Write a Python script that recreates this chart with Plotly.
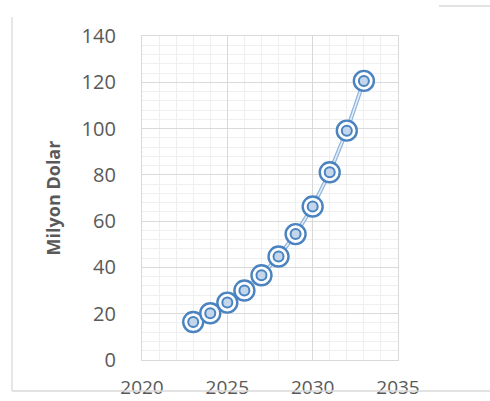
import plotly.graph_objects as go

# Annual market size (million USD)
years = [2023, 2024, 2025, 2026, 2027, 2028, 2029, 2030, 2031, 2032, 2033]
values = [16.4, 20.2, 24.8, 30.0, 36.6, 44.7, 54.4, 66.3, 81.1, 99.1, 120.6]

y_title = "Milyon Dolar"
x_ticks = [2020, 2025, 2030, 2035]
y_ticks = [0, 20, 40, 60, 80, 100, 120, 140]

blue = "#4a83c0"
text_color = "#595959"
font_family = "Open Sans"

fig = go.Figure()

# compound (double) connector line: wide light stroke with a pale core
fig.add_trace(go.Scatter(x=years, y=values, mode="lines",
                         line=dict(color="#8db3dd", width=4),
                         hoverinfo="skip", showlegend=False))
fig.add_trace(go.Scatter(x=years, y=values, mode="lines",
                         line=dict(color="#e3edf8", width=1.6),
                         hoverinfo="skip", showlegend=False))
# double-ring markers
fig.add_trace(go.Scatter(x=years, y=values, mode="markers",
                         marker=dict(symbol="circle", size=20, color="rgba(255,255,255,0.9)",
                                     line=dict(color=blue, width=2.4)),
                         showlegend=False))
fig.add_trace(go.Scatter(x=years, y=values, mode="markers",
                         marker=dict(symbol="circle", size=10, color="#c4d6ec",
                                     line=dict(color=blue, width=2)),
                         showlegend=False))

fig.update_xaxes(range=[2020, 2035], tickvals=x_ticks, showgrid=True,
                 gridcolor="#d9d9d9", gridwidth=1.3,
                 minor=dict(dtick=1, showgrid=True, gridcolor="#efefef", gridwidth=1),
                 zeroline=False, showline=True, linecolor="#d9d9d9", linewidth=1.3, mirror=True,
                 ticks="", ticklabelstandoff=10, automargin=False,
                 tickfont=dict(family=font_family, size=19, color=text_color))
fig.update_yaxes(range=[0, 140], tickvals=y_ticks, showgrid=True,
                 gridcolor="#d9d9d9", gridwidth=1.3,
                 minor=dict(dtick=4, showgrid=True, gridcolor="#efefef", gridwidth=1),
                 zeroline=False, showline=True, linecolor="#d9d9d9", linewidth=1.3, mirror=True,
                 ticks="", ticklabelstandoff=21, automargin=False,
                 title=dict(text=y_title, standoff=16,
                            font=dict(family=font_family, size=18, color=text_color, weight="bold")),
                 tickfont=dict(family=font_family, size=20, color=text_color))

# chart area frame
frame = "#d9d9d9"
fig.add_shape(type="line", xref="paper", yref="paper", x0=-130/256, x1=-130/256,
              y0=-31/324, y1=343/324, line=dict(color=frame, width=1.3))
fig.add_shape(type="line", xref="paper", yref="paper", x0=-130/256, x1=348/256,
              y0=-31/324, y1=-31/324, line=dict(color=frame, width=1.3))
fig.add_shape(type="line", xref="paper", yref="paper", x0=297/256, x1=348/256,
              y0=354/324, y1=354/324, line=dict(color=frame, width=1.3))

fig.update_layout(width=490, height=401, margin=dict(l=142, r=92, t=36, b=41),
                  paper_bgcolor="white", plot_bgcolor="white",
                  font=dict(family=font_family, color=text_color))

fig.write_html("out.html")
